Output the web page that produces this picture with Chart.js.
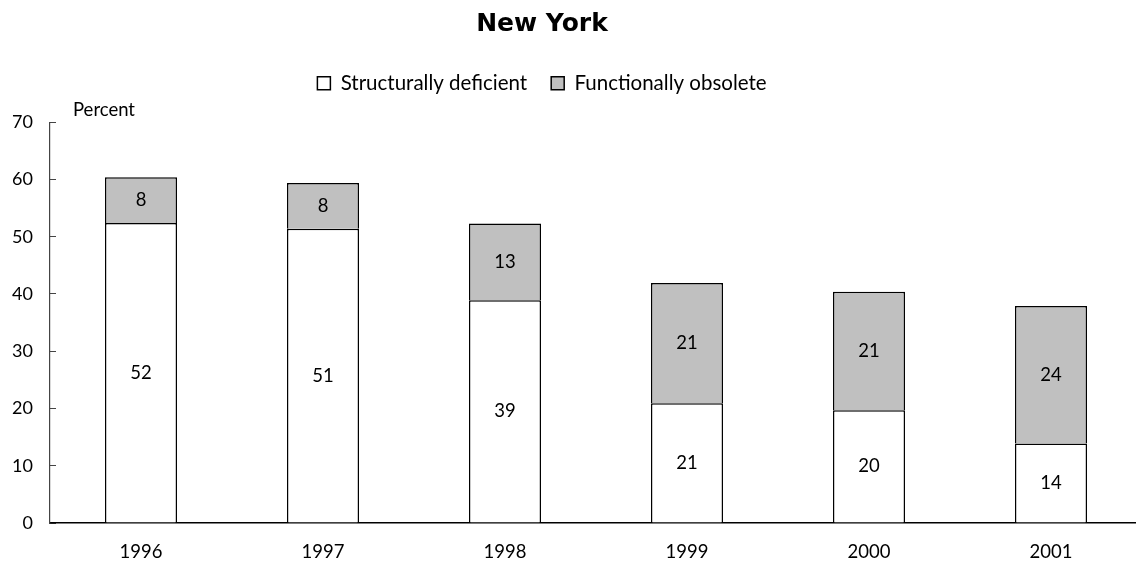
<!DOCTYPE html>
<html>
<head>
<meta charset="utf-8">
<script src="https://cdn.jsdelivr.net/npm/chart.js@4"></script>
<style>
  html, body { margin: 0; padding: 0; background: #fff; overflow: hidden; }
  #wrap { position: relative; width: 1136px; height: 562px; overflow: hidden; }
  #chart { position: absolute; left: -58px; top: 0; }
</style>
</head>
<body>
<div id="wrap"><canvas id="chart" width="1200" height="562"></canvas></div>
<script>
const years = ['1996', '1997', '1998', '1999', '2000', '2001'];
const structural = [52.4, 51.4, 38.9, 20.9, 19.7, 13.9];
const functional = [8.0, 8.0, 13.4, 21.0, 20.7, 24.0];
const yTicks = [0, 10, 20, 30, 40, 50, 60, 70];

const FONT = 'Lato, "Open Sans", sans-serif';

// values written inside each segment
const barLabels = {
	id: 'barLabels',
	afterDatasetsDraw(chart) {
		const ctx = chart.ctx;
		ctx.save();
		ctx.font = '18.5px ' + FONT;
		ctx.fillStyle = '#000';
		ctx.textAlign = 'center';
		ctx.textBaseline = 'middle';
		chart.data.datasets.forEach((ds, i) => {
			chart.getDatasetMeta(i).data.forEach((bar, j) => {
				const mid = (bar.y + bar.base) / 2;
				ctx.fillText(Math.round(ds.data[j]), bar.x, mid);
			});
		});
		ctx.restore();
	},
};

// "Percent" over the y axis
const unitLabel = {
	id: 'unitLabel',
	afterDraw(chart) {
		const ctx = chart.ctx;
		const y = chart.scales.y;
		ctx.save();
		ctx.font = '18.5px ' + FONT;
		ctx.fillStyle = '#000';
		ctx.textAlign = 'left';
		ctx.textBaseline = 'middle';
		ctx.fillText('Percent', chart.chartArea.left + 23, y.getPixelForValue(70) - 12);
		ctx.restore();
	},
};

const legendHeight = {
	id: 'legendHeight',
	beforeInit(chart) {
		const fit = chart.legend.fit;
		chart.legend.fit = function () {
			fit.bind(chart.legend)();
			this.height = 73.2;
		};
	},
};

const data = {
	labels: years,
	datasets: [
		{
			label: 'Structurally deficient',
			data: structural,
			backgroundColor: '#ffffff',
			borderColor: '#000000',
			borderWidth: 1.5,
		},
		{
			label: 'Functionally obsolete',
			data: functional,
			backgroundColor: '#c0c0c0',
			borderColor: '#000000',
			borderWidth: 1.5,
		},
	],
};

const config = {
	type: 'bar',
	data: data,
	options: {
		responsive: false,
		animation: false,
		devicePixelRatio: 1,
		layout: { padding: 0 },
		datasets: {
			bar: { categoryPercentage: 1, barPercentage: 0.396 },
		},
		scales: {
			x: {
				stacked: true,
				grid: { display: true, drawOnChartArea: false, drawTicks: false },
				border: { display: true, color: '#000', width: 1.5 },
				ticks: { color: '#000', font: { family: FONT, size: 18.5 }, padding: 18 },
				afterFit: (s) => { s.height = 39; },
			},
			y: {
				stacked: true,
				min: 0,
				max: 70,
				afterBuildTicks: (s) => { s.ticks = yTicks.map((v) => ({ value: v })); },
				grid: { display: true, drawOnChartArea: false, drawTicks: true, tickLength: -6, color: '#444' },
				border: { display: true, color: '#444', width: 1.2 },
				ticks: { color: '#000', font: { family: FONT, size: 18 }, padding: 23 },
				afterFit: (s) => { s.width = 108; },
			},
		},
		plugins: {
			title: {
				display: true,
				text: 'New York',
				color: '#000',
				font: { family: '"DejaVu Sans", sans-serif', size: 25, weight: 'bold' },
				padding: { top: 9, bottom: 10 },
			},
			legend: {
				display: true,
				position: 'top',
				labels: {
					color: '#000',
					font: { family: FONT, size: 20.5 },
					boxWidth: 13,
					boxHeight: 13,
					padding: 24,
				},
			},
			tooltip: { enabled: false },
		},
	},
	plugins: [barLabels, unitLabel, legendHeight],
};

new Chart(document.getElementById('chart'), config);
</script>
</body>
</html>
